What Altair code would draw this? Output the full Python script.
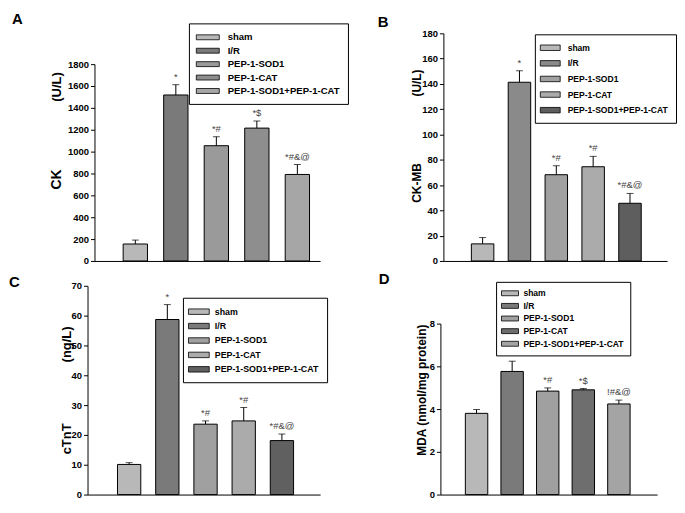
import altair as alt
import pandas as pd

groups = ["sham", "I/R", "PEP-1-SOD1", "PEP-1-CAT", "PEP-1-SOD1+PEP-1-CAT"]

ck_mean = [155, 1518, 1054, 1215, 791]
ck_err = [191, 1612, 1136, 1280, 882]
ck_marks = ["", "*", "*#", "*$", "*#&@"]
ck_ticks = [0, 200, 400, 600, 800, 1000, 1200, 1400, 1600, 1800]

ckmb_mean = [13.5, 141.3, 68.2, 74.5, 45.6]
ckmb_err = [18.5, 150.4, 75.3, 82.7, 53.4]
ckmb_marks = ["", "*", "*#", "*#", "*#&@"]
ckmb_ticks = [0, 20, 40, 60, 80, 100, 120, 140, 160, 180]

ctnt_mean = [10.1, 58.7, 23.6, 24.7, 18.1]
ctnt_err = [10.7, 63.7, 24.7, 29.2, 20.3]
ctnt_marks = ["", "*", "*#", "*#", "*#&@"]
ctnt_ticks = [0, 10, 20, 30, 40, 50, 60, 70]

mda_mean = [3.80, 5.76, 4.84, 4.90, 4.24]
mda_err = [3.98, 6.24, 4.99, 4.96, 4.42]
mda_marks = ["", "*", "*#", "*$", "!#&@"]
mda_ticks = [0, 2, 4, 6, 8]

FONT = "Liberation Sans, Arial, Helvetica, sans-serif"
one = pd.DataFrame({"k": [0]})


def invisible_box(x1, y1, x2, y2):
    return alt.Chart(one).mark_rule(opacity=0, strokeWidth=0).encode(
        x=alt.value(x1), y=alt.value(y1), x2=alt.value(x2), y2=alt.value(y2))


def spacer():
    return invisible_box(0, 0, 1, 1).properties(width=1, height=1)


def panel(letter, mean, err, marks, ticks, colors, frame, xpad, leg,
          letter_pos, titles, cell):
    w, h = frame
    df = pd.DataFrame({"group": groups, "mean": mean, "err": err, "mark": marks})
    base = alt.Chart(df)
    pi, po, al = xpad
    xscale = alt.Scale(paddingInner=pi, paddingOuter=po, align=al)
    xaxis = alt.Axis(labels=False, ticks=False, title=None, domainColor="black",
                     domainWidth=1)
    xenc = alt.X("group:N", sort=groups, scale=xscale, axis=xaxis)
    yscale = alt.Scale(domain=[ticks[0], ticks[-1]], nice=False)
    yaxis = alt.Axis(values=ticks, format="d", title=None, grid=False,
                     tickSize=4, tickColor="black", tickWidth=1,
                     domainColor="black", domainWidth=1,
                     labelFont=FONT, labelFontSize=9.5,
                     labelFontWeight="bold", labelColor="black", labelPadding=2)
    sym_path, sym_size, pad, sym_off, lab_off, fsize, rowpad, lx, ly = leg
    legend = alt.Legend(orient="none", legendX=lx, legendY=ly, title=None,
                        symbolType=sym_path, symbolSize=sym_size,
                        symbolStrokeColor="black", symbolStrokeWidth=0.8,
                        symbolOffset=sym_off, labelOffset=lab_off,
                        labelFont=FONT, labelFontSize=fsize,
                        labelFontWeight="bold", labelColor="black",
                        padding=pad, rowPadding=rowpad, strokeColor="black",
                        fillColor="white", symbolOpacity=1, labelLimit=300)
    yenc_mean = alt.Y("mean:Q", scale=yscale, axis=yaxis)
    yenc_err = alt.Y("err:Q", scale=yscale, axis=yaxis)
    bars = base.mark_bar(stroke="black", strokeWidth=1).encode(
        x=xenc, y=yenc_mean,
        fill=alt.Fill("group:N", sort=groups,
                      scale=alt.Scale(domain=groups, range=colors),
                      legend=legend),
    )
    rule = base.mark_rule(color="black", strokeWidth=1).encode(
        x=xenc, y=yenc_mean, y2="err:Q")
    cap = base.mark_tick(color="black", size=7, thickness=1,
                         orient="horizontal").encode(x=xenc, y=yenc_err)
    ann = base.mark_text(baseline="bottom", dy=-3, fontSize=9.5, font=FONT,
                         color="#444").encode(x=xenc, y=yenc_err, text="mark:N")
    layers = [bars, rule, cap, ann]
    layers.append(alt.Chart(one).mark_text(
        font=FONT, fontSize=15, fontWeight="bold", align="left",
        baseline="alphabetic", color="black").encode(
        x=alt.value(letter_pos[0]), y=alt.value(letter_pos[1]),
        text=alt.value(letter)))
    for txt, tx, ty, fs in titles:
        layers.append(alt.Chart(one).mark_text(
            font=FONT, fontSize=fs, fontWeight="bold", align="center",
            baseline="middle", angle=270, color="black").encode(
            x=alt.value(tx), y=alt.value(ty), text=alt.value(txt)))
    layers.append(invisible_box(*cell))
    return alt.layer(*layers).properties(width=w, height=h)


# Panel A: plot origin (95, 63)
pA = panel("A", ck_mean, ck_err, ck_marks, ck_ticks,
           ["#b8b8b8", "#7a7a7a", "#9a9a9a", "#8e8e8e", "#a6a6a6"],
           (227, 198), (0.4, 0.485, 0.73),
           ("M-2.1,-0.45H2.1V0.45H-2.1Z", 121, 8, 5, 14, 9.6, 2.5, 95, -41),
           (-83, -40),
           [("CK", -37.5, 116, 14), ("(U/L)", -37.5, 23, 13)],
           (-86, -54, 255, 204))

# Panel B: plot origin (445, 32)
pB = panel("B", ckmb_mean, ckmb_err, ckmb_marks, ckmb_ticks,
           ["#b8b8b8", "#8a8a8a", "#a0a0a0", "#ababab", "#5e5e5e"],
           (225, 229), (0.39, 0.73, 0.52),
           ("M-2,-0.55H2V0.55H-2Z", 100, 8, 2, 12, 8.6, 4.7, 92, 1),
           (-66, -6),
           [("CK-MB", -26.5, 150.5, 12), ("(U/L)", -26.5, 50, 12)],
           (-85, -23, 229, 235))

# Panel C: plot origin (88, 286)
pC = panel("C", ctnt_mean, ctnt_err, ctnt_marks, ctnt_ticks,
           ["#b8b8b8", "#7a7a7a", "#a0a0a0", "#ababab", "#606060"],
           (234, 210), (0.39, 0.74, 0.53),
           ("M-1.9,-0.5H1.9V0.5H-1.9Z", 121, 8, 2, 10, 8.9, 3.5, 96, 12),
           (-79, 1),
           [("cTnT", -21, 154, 13), ("(ng/L)", -21, 59, 13)],
           (-79, -19, 262, 214))

# Panel D: plot origin (442, 324)
pD = panel("D", mda_mean, mda_err, mda_marks, mda_ticks,
           ["#b8b8b8", "#7a7a7a", "#a0a0a0", "#6e6e6e", "#a4a4a4"],
           (218, 172), (0.37, 0.73, 0.48),
           ("M-1.9,-0.55H1.9V0.55H-1.9Z", 81, 6.5, 2.5, 8.5, 8.6, 2.7, 56, -42),
           (-62, -40),
           [("MDA (nmol/mg protein)", -19, 67, 12)],
           (-82, -57, 232, 176))


def wrap(p):
    return alt.hconcat(spacer(), p, spacing=0).resolve_scale(
        fill="independent").resolve_legend(fill="independent")


colL = alt.vconcat(spacer(), wrap(pA), wrap(pC), spacing=0).resolve_scale(
    fill="independent").resolve_legend(fill="independent")
colR = alt.vconcat(spacer(), wrap(pB), wrap(pD), spacing=0).resolve_scale(
    fill="independent").resolve_legend(fill="independent")

chart = alt.hconcat(colL, colR, spacing=9).resolve_scale(
    fill="independent").resolve_legend(fill="independent").properties(
    padding=0, background="white").configure(font=FONT).configure_view(
    stroke=None, strokeWidth=0)

chart.save("out.html", embed_options={"renderer": "svg", "actions": False})
